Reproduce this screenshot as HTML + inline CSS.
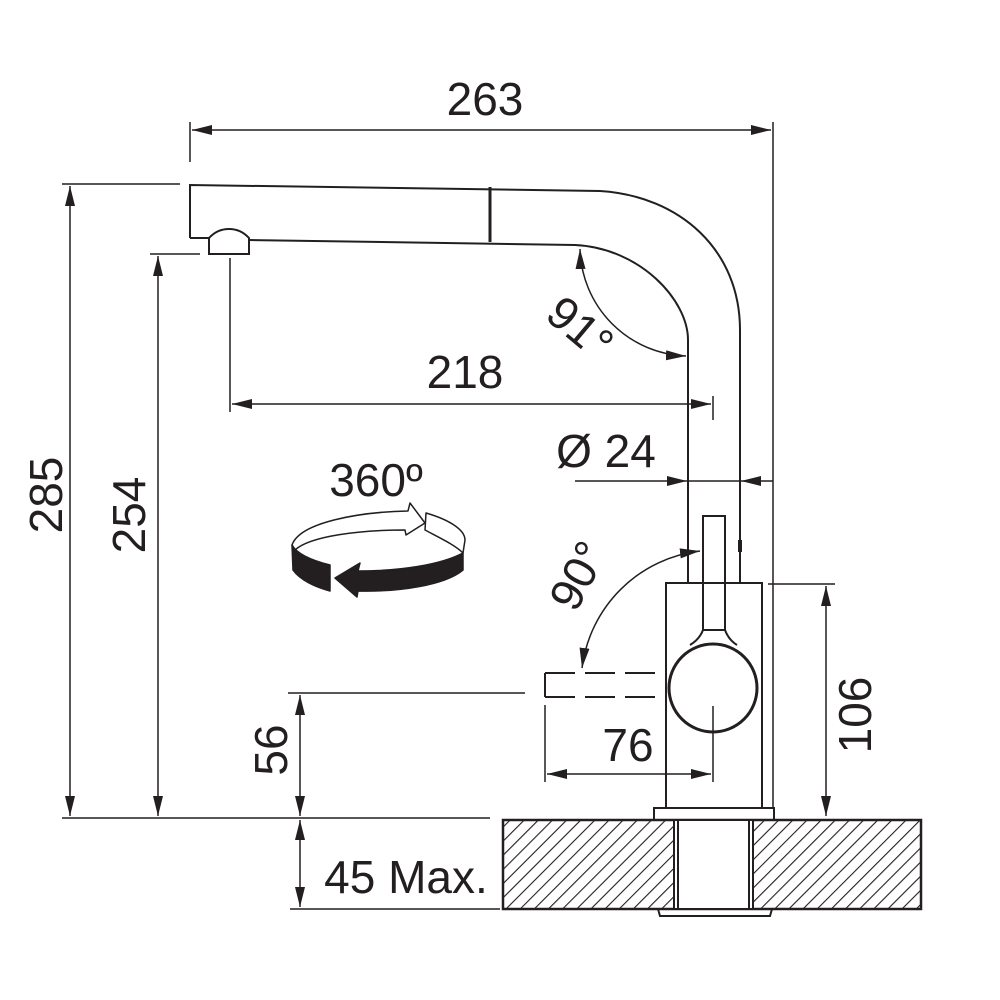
<!DOCTYPE html>
<html><head><meta charset="utf-8"><style>html,body{margin:0;padding:0;background:#fff}svg{display:block}</style></head>
<body>
<svg width="1000" height="1000" viewBox="0 0 1000 1000" xmlns="http://www.w3.org/2000/svg">
<defs>
<marker id="a" viewBox="0 0 20 10" refX="20" refY="5" markerWidth="20" markerHeight="10" markerUnits="userSpaceOnUse" orient="auto-start-reverse"><path d="M0,0 L20,5 L0,10 Z" fill="#231f20"/></marker>
<pattern id="h" width="10" height="10" patternUnits="userSpaceOnUse" patternTransform="rotate(45)"><line x1="0" y1="0" x2="0" y2="10" stroke="#231f20" stroke-width="2.2"/></pattern>
</defs>
<g fill="none" stroke="#231f20" stroke-width="2">
<path d="M190,238 L190,185 L600,191 C680,196 740,250 740,330 L740,583"/>
<path d="M249,240 L575,245 C640,248 688,300 688,340 L688,583"/>
<line x1="490" y1="187" x2="490" y2="242" stroke-width="3"/>
<path d="M190,238 L209,238 M209,238 C220,226 238,226 249,238 L249,254 L209,254 Z"/>
<rect x="666" y="583" width="96" height="225"/>
<rect x="703" y="516" width="22" height="114"/>
<circle cx="713" cy="688" r="44" stroke-width="3"/>
<path d="M703,630 C700,638 695,642 690,645 M725,630 C728,638 732,642 737,645"/>
<line x1="740" y1="540" x2="740" y2="552" stroke-width="4"/>
<rect x="654" y="808" width="120" height="12"/>
<rect x="503" y="820" width="418" height="89" fill="url(#h)" stroke-width="2.5"/>
<rect x="674" y="820" width="79" height="89" fill="#fff"/>
<line x1="678" y1="820" x2="678" y2="909"/><line x1="749" y1="820" x2="749" y2="909"/>
<path d="M658,909 L660,916 L770,916 L772,909"/>
<path d="M545,673 L545,697" /><path d="M545,673 L665,673 M545,697 L665,697" stroke-dasharray="30,10"/>
</g>
<g fill="none" stroke="#231f20" stroke-width="1.5">
<line x1="190" y1="122" x2="190" y2="162"/>
<line x1="773" y1="122" x2="773" y2="808"/>
<line x1="62" y1="184" x2="180" y2="184"/>
<line x1="150" y1="254" x2="200" y2="254"/>
<line x1="62" y1="818" x2="490" y2="818"/>
<line x1="288" y1="693" x2="525" y2="693"/>
<line x1="290" y1="909" x2="500" y2="909"/>
<line x1="768" y1="584" x2="835" y2="584"/>
<line x1="230" y1="258" x2="230" y2="412"/>
<line x1="713" y1="396" x2="713" y2="420"/>
<line x1="545" y1="705" x2="545" y2="782"/>
<line x1="713" y1="706" x2="713" y2="782"/>
<line x1="192" y1="130" x2="771" y2="130" marker-start="url(#a)" marker-end="url(#a)"/>
<line x1="70" y1="186" x2="70" y2="816" marker-start="url(#a)" marker-end="url(#a)"/>
<line x1="158" y1="256" x2="158" y2="816" marker-start="url(#a)" marker-end="url(#a)"/>
<line x1="300" y1="695" x2="300" y2="816" marker-start="url(#a)" marker-end="url(#a)"/>
<line x1="300" y1="820" x2="300" y2="907" marker-start="url(#a)" marker-end="url(#a)"/>
<line x1="826" y1="586" x2="826" y2="816" marker-start="url(#a)" marker-end="url(#a)"/>
<line x1="232" y1="404" x2="711" y2="404" marker-start="url(#a)" marker-end="url(#a)"/>
<line x1="547" y1="774" x2="711" y2="774" marker-start="url(#a)" marker-end="url(#a)"/>
<line x1="575" y1="481" x2="687" y2="481" marker-end="url(#a)"/>
<line x1="773" y1="481" x2="741" y2="481" marker-end="url(#a)"/>
<line x1="688" y1="481" x2="740" y2="481"/>
<path d="M580,249 A110,110 0 0 0 686,356" marker-start="url(#a)" marker-end="url(#a)"/>
<path d="M700,551 A135,135 0 0 0 582,668" marker-start="url(#a)" marker-end="url(#a)"/>
</g>
<g stroke="#231f20" stroke-width="1.5" stroke-linejoin="round">
<path d="M292,545 C300,522 360,512 408,511 L410,503 L425,523 L406,535 L405,530 C360,530 310,536 295,550 Z" fill="#fff"/>
<path d="M426,513 C450,520 465,530 465,540 L463,553 C455,545 440,538 425,530 Z" fill="#fff"/>
<path d="M292,545 L293,570 C300,580 315,587 330,591 L330,565 C310,560 296,553 292,545 Z" fill="#231f20"/>
<path d="M335,578 L360,563 L358,571 C400,571 440,565 463,553 L463,570 C445,585 400,592 358,591 L357,597 Z" fill="#231f20"/>
</g>
<g font-family="Liberation Sans, sans-serif" font-size="46" fill="#231f20" text-anchor="middle">
<text x="485" y="115">263</text>
<text x="465" y="388">218</text>
<text x="606" y="467">Ø 24</text>
<text x="376" y="496">360º</text>
<text x="628" y="761">76</text>
<text x="406" y="893">45 Max.</text>
<text x="0" y="0" transform="translate(287,750) rotate(-90)">56</text>
<text x="0" y="0" transform="translate(62,495) rotate(-90)">285</text>
<text x="0" y="0" transform="translate(145,515) rotate(-90)">254</text>
<text x="0" y="0" transform="translate(871,715) rotate(-90)">106</text>
<text x="0" y="0" transform="translate(592,583) rotate(-62)">90°</text>
<text x="0" y="0" transform="translate(570,340) rotate(40)">91°</text>
</g>
</svg>
</body></html>
